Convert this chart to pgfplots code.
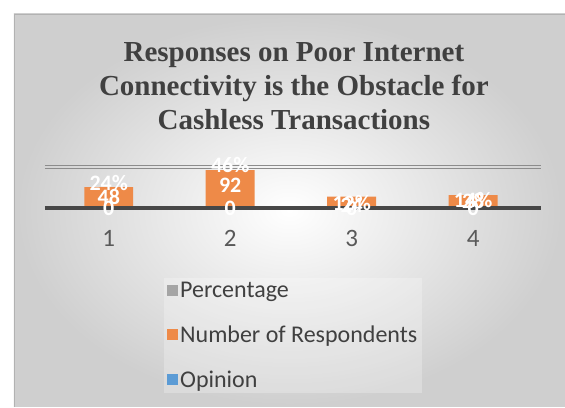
\documentclass[border=0pt]{standalone}
\usepackage{pgfplots}
\pgfplotsset{compat=1.18}
\usepackage{fontspec}
\setmainfont{Carlito}
\newfontfamily\titlefont{Liberation Serif}
\definecolor{ttl}{HTML}{404040}
\definecolor{tick}{HTML}{595959}
\definecolor{orangebar}{HTML}{EE8A48}
\definecolor{graybar}{HTML}{A5A5A5}
\definecolor{bluebar}{HTML}{5B9BD5}

\begin{document}
\begin{tikzpicture}[x=1pt,y=1pt]
% page and chart background
\fill[white] (0,0) rectangle (565,-407);
\shade[inner color=white, outer color=black!19] (14,-14) rectangle (565,-407);
\draw[black!30] (14,-407) -- (14,-14) -- (565,-14);
\node[font=\titlefont\bfseries\fontsize{29}{34}\selectfont, text=ttl, align=center]
  at (294,-86) {Responses on Poor Internet\\Connectivity is the Obstacle for\\Cashless Transactions};

\begin{axis}[
    at={(45pt,-208pt)}, anchor=south west,
    scale only axis,
    width=496pt, height=41pt,
    xmin=-0.525, xmax=3.557,
    ymin=-5, ymax=100,
    clip=false,
    axis x line*=bottom,
    axis y line=none,
    x axis line style={line width=3.5pt, draw=black!72, -},
    xtick={0,1,2,3}, xticklabels={1,2,3,4},
    ytick=\empty,
    major tick length=0pt,
    x tick label style={font=\fontsize{25}{25}\selectfont, text=tick, yshift=-19pt},
    legend image code/.code={\fill[#1, fill opacity=1] (0pt,-5.5pt) rectangle (11pt,5.5pt);},
    legend cell align=left,
    legend style={
        at={(axis description cs:0.24,-1.7)}, anchor=north west,
        draw=none, fill=white, fill opacity=0.25, text opacity=1,
        font=\fontsize{24}{28}\selectfont, text=ttl,
        row sep=23pt,
        nodes={inner sep=2pt},
        /tikz/every even column/.append style={xshift=3pt},
    },
]
% top gridline (double rule)
\draw[black!45, line width=1pt] ([yshift=1.4pt]axis cs:-0.525,100) -- ([yshift=1.4pt]axis cs:3.557,100);
\draw[black!45, line width=1pt] ([yshift=-1.4pt]axis cs:-0.525,100) -- ([yshift=-1.4pt]axis cs:3.557,100);

\addlegendimage{fill=graybar, draw=none}
\addlegendentry{Percentage}

\addplot[ybar, bar width=49pt, bar shift=0pt, fill=orangebar, draw=none]
  coordinates {(0,48) (1,92) (2,24) (3,28)};
\addlegendentry{Number of Respondents}

% data labels (white, overlapping as in the original)
\addplot[draw=none, forget plot, nodes near coords, point meta=explicit symbolic,
  nodes near coords style={white, anchor=center, font=\bfseries\fontsize{22}{22}\selectfont}]
  coordinates {(0,59)[24\%] (1,105)[46\%] (2,8)[12\%] (3,15)[14\%]};
\addplot[draw=none, forget plot, nodes near coords, point meta=explicit symbolic,
  nodes near coords style={white, anchor=center, font=\bfseries\fontsize{22}{22}\selectfont}]
  coordinates {(0,23)[48] (1,54)[92] (2,3)[24] (3,13)[28]};
\addplot[draw=none, forget plot, nodes near coords, point meta=explicit symbolic,
  nodes near coords style={white, anchor=center, font=\bfseries\fontsize{22}{22}\selectfont}]
  coordinates {(0,-5)[0] (1,-5)[0] (2,-5)[0] (3,-5)[0]};

\addlegendimage{fill=bluebar, draw=none}
\addlegendentry{Opinion}
\end{axis}
\end{tikzpicture}
\end{document}
